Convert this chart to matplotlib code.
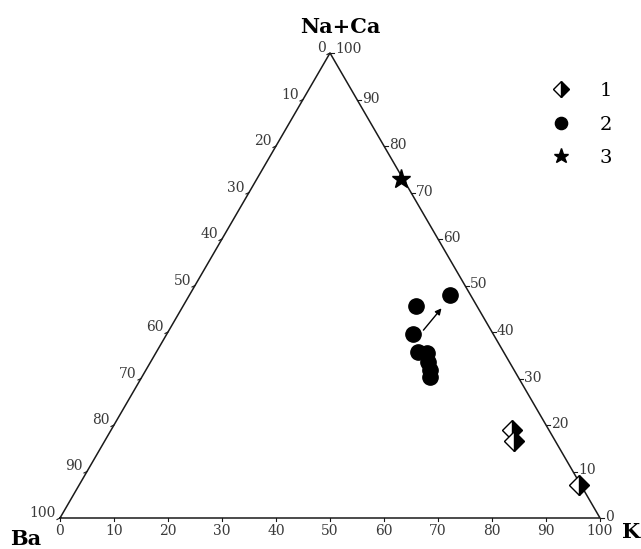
import matplotlib
matplotlib.use("Agg")
import matplotlib.pyplot as plt
import numpy as np

# ---- data (Ba, K, Na+Ca in %) ----
g1_ba = [6.8, 7.6, 0.3]
g1_k = [74.3, 75.8, 92.5]
g1_naca = [18.9, 16.6, 7.2]

g2_ba = [3.8, 11.3, 14.8, 15.8, 14.4, 15.0, 15.6, 16.3]
g2_k = [48.2, 43.1, 45.6, 48.5, 50.2, 51.4, 52.6, 53.3]
g2_naca = [48.0, 45.6, 39.6, 35.7, 35.4, 33.6, 31.8, 30.4]

g3_ba = [0.5]
g3_k = [26.7]
g3_naca = [72.8]

arrow_start = (12.5, 47.1, 40.4)   # Ba, K, Na+Ca
arrow_end = (6.8, 48.1, 45.1)

tick_values = [0, 10, 20, 30, 40, 50, 60, 70, 80, 90, 100]
legend_labels = ["1", "2", "3"]
vertex_labels = ["Ba", "K", "Na+Ca"]

FONT = "DejaVu Serif"


def tern(ba, k, nc):
    ba = np.asarray(ba, float); k = np.asarray(k, float); nc = np.asarray(nc, float)
    t = ba + k + nc
    return 100 * (k + nc / 2) / t, 100 * nc / t


fig = plt.figure(figsize=(6.41, 5.49), dpi=100)
ax = fig.add_axes([0, 0, 1, 1])
# pixel mapping: X 0..100 -> px 60..600 ; Y 0..100 -> py 518..53
ax.set_xlim(-60 / 5.4, 581 / 5.4)
ax.set_ylim((518 - 549) / 4.65, 518 / 4.65)
ax.axis("off")

PX = 1 / 5.4   # data units per pixel in x
PY = 1 / 4.65  # data units per pixel in y

# triangle
tx = [0, 100, 50, 0]
ty = [0, 0, 100, 0]
ax.plot(tx, ty, color="#1a1a1a", lw=1.1, solid_joinstyle="miter", zorder=2)

tick_col = "#3a3a3a"
# bottom axis (K)
for v in tick_values:
    ax.plot([v, v], [0, -3 * PY], color="#1a1a1a", lw=0.8)
    ax.text(v, -13 * PY, str(v), ha="center", va="center", fontsize=10,
            family=FONT, color=tick_col)
# left axis (Ba): 0 at top, 100 at Ba vertex
for v in tick_values:
    x, y = (100 - v) / 2, 100 - v
    ax.plot([x, x - 3 * PX], [y, y - 1.5 * PY], color="#1a1a1a", lw=0.8)
    ax.text(x - 4 * PX, y + 5 * PY, str(v), ha="right", va="center", fontsize=10,
            family=FONT, color=tick_col)
# right axis (Na+Ca): 0 at K vertex, 100 at top
for v in tick_values:
    x, y = 100 - v / 2, v
    ax.plot([x, x + 4 * PX], [y, y], color="#1a1a1a", lw=0.8)
    ax.text(x + 5 * PX, y + (4 if v == 100 else 1) * PY, str(v), ha="left",
            va="center", fontsize=10, family=FONT, color=tick_col)

# vertex labels
ax.text(-34 * PX, -21 * PY, vertex_labels[0], ha="center", va="center",
        fontsize=15, fontweight="bold", family=FONT)
ax.text(100 + 31 * PX, -14 * PY, vertex_labels[1], ha="center", va="center",
        fontsize=15, fontweight="bold", family=FONT)
ax.text(50 + 10 * PX, 100 + 26 * PY, vertex_labels[2], ha="center", va="center",
        fontsize=15, fontweight="bold", family=FONT)

# data
x1, y1 = tern(g1_ba, g1_k, g1_naca)
h1, = ax.plot(x1, y1, linestyle="none", marker="D", markersize=10,
              fillstyle="right", markerfacecolor="black",
              markerfacecoloralt="white", markeredgecolor="black",
              markeredgewidth=1.0, zorder=4)
x2, y2 = tern(g2_ba, g2_k, g2_naca)
h2, = ax.plot(x2, y2, linestyle="none", marker="o", markersize=11,
              color="black", zorder=4)
x3, y3 = tern(g3_ba, g3_k, g3_naca)
h3, = ax.plot(x3, y3, linestyle="none", marker="*", markersize=14,
              color="black", zorder=4)

sx, sy = tern(*arrow_start)
ex, ey = tern(*arrow_end)
ax.annotate("", xy=(float(ex), float(ey)), xytext=(float(sx), float(sy)),
            arrowprops=dict(arrowstyle="-|>", color="black", lw=1.0,
                            mutation_scale=9, shrinkA=0, shrinkB=0), zorder=5)

leg = ax.legend([h1, h2, h3], legend_labels, loc="upper left",
                bbox_to_anchor=(551 / 641, 1 - 82 / 549),
                bbox_transform=fig.transFigure, frameon=False,
                handlelength=1.0, handletextpad=1.5, labelspacing=0.8,
                borderpad=0, borderaxespad=0, numpoints=1,
                prop=dict(family=FONT, size=14), markerscale=0.8)

fig.savefig("out.png", dpi=100)
